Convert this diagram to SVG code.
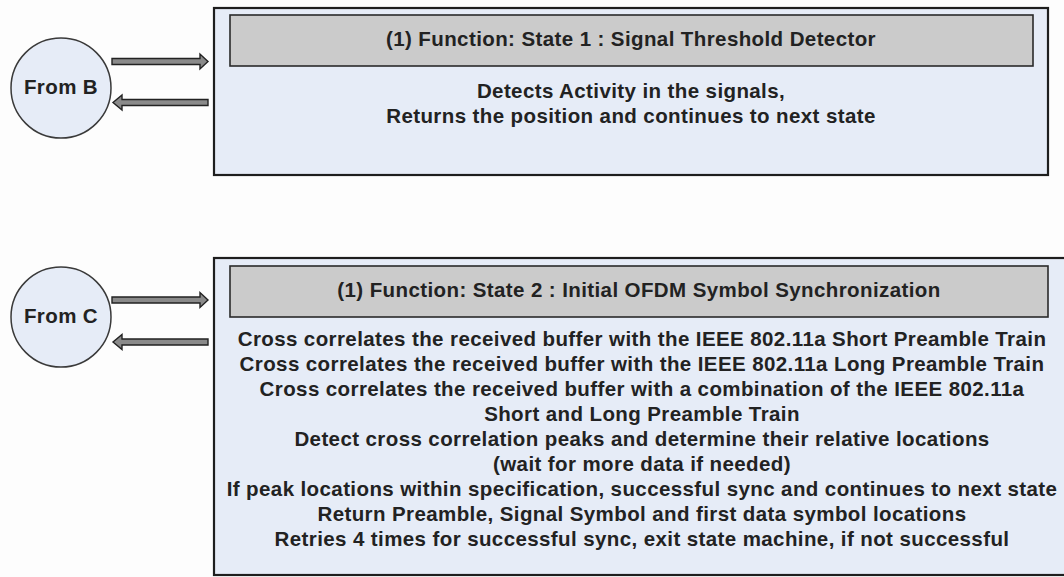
<svg xmlns="http://www.w3.org/2000/svg" width="1064" height="577" viewBox="0 0 1064 577">
<style>
.bg{fill:#fdfdfd}
.box{fill:#e6ecf7;stroke:#1e1e1e;stroke-width:2.2}
.hdr{fill:#cbcbcb;stroke:#2a2a2a;stroke-width:1.6}
.circ{fill:#e6ecf7;stroke:#3a3a3a;stroke-width:1.5}
.t{font-family:"Liberation Sans",Arial,sans-serif;font-weight:bold;font-size:20.5px;letter-spacing:0.4px;fill:#222;text-anchor:middle}
.arr{fill:#8a8a8a;stroke:#222;stroke-width:1.4;stroke-linejoin:miter}
</style>
<rect class="bg" x="0" y="0" width="1064" height="577"/>
<g id="fromB">
<circle class="circ" cx="61" cy="88" r="50"/>
<text class="t" x="61" y="94">From B</text>
</g>
<g id="fromC">
<circle class="circ" cx="61" cy="317" r="50"/>
<text class="t" x="61" y="323">From C</text>
</g>
<g id="state1">
<rect class="box" x="214" y="8" width="834" height="167"/>
<rect class="hdr" x="230" y="15" width="803" height="51"/>
<text class="t" x="631" y="46">(1) Function: State 1 : Signal Threshold Detector</text>
<text class="t" x="631" y="98">Detects Activity in the signals,</text>
<text class="t" x="631" y="123">Returns the position and continues to next state</text>
</g>
<g id="state2">
<rect class="box" x="214" y="258" width="856" height="317"/>
<rect class="hdr" x="230" y="266" width="818" height="51"/>
<text class="t" x="639" y="297">(1) Function: State 2 : Initial OFDM Symbol Synchronization</text>
<text class="t" x="642" y="346">Cross correlates the received buffer with the IEEE 802.11a Short Preamble Train</text>
<text class="t" x="642" y="371">Cross correlates the received buffer with the IEEE 802.11a Long Preamble Train</text>
<text class="t" x="642" y="396">Cross correlates the received buffer with a combination of the IEEE 802.11a</text>
<text class="t" x="642" y="421">Short and Long Preamble Train</text>
<text class="t" x="642" y="446">Detect cross correlation peaks and determine their relative locations</text>
<text class="t" x="642" y="471">(wait for more data if needed)</text>
<text class="t" x="642" y="496">If peak locations within specification, successful sync and continues to next state</text>
<text class="t" x="642" y="521">Return Preamble, Signal Symbol and first data symbol locations</text>
<text class="t" x="642" y="546">Retries 4 times for successful sync, exit state machine, if not successful</text>
</g>
<g id="connectors">
<path class="arr" d="M112,58.5 H200 V54 L208,61.5 L200,69 V64.5 H112 Z"/>
<path class="arr" d="M208,99.5 H122 V95 L113,102.5 L122,110 V105.5 H208 Z"/>
<path class="arr" d="M112,297 H200 V292.5 L208,300 L200,307.5 V303 H112 Z"/>
<path class="arr" d="M208,339 H122 V334.5 L113,342 L122,349.5 V345 H208 Z"/>
</g>
</svg>
